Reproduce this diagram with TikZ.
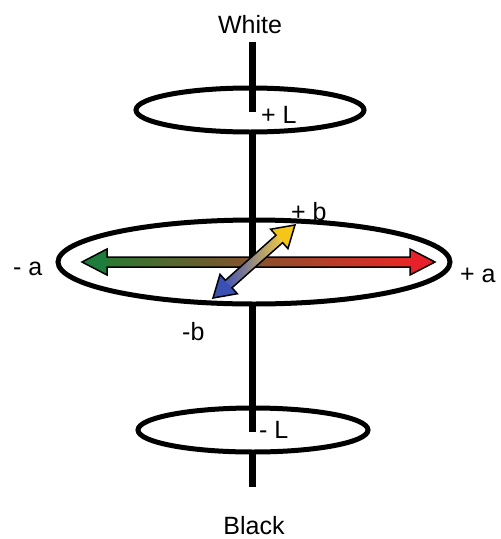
\documentclass[tikz,border=0pt]{standalone}
\usepackage{fontspec}
\setmainfont{Liberation Sans}
\usetikzlibrary{shapes.geometric}
\definecolor{hgreen}{RGB}{45,120,50}
\definecolor{hbrown}{RGB}{140,105,40}
\definecolor{hred}{RGB}{232,40,38}
\definecolor{hgreenhead}{RGB}{30,125,58}
\definecolor{hredhead}{RGB}{232,32,42}
\definecolor{dblue}{RGB}{70,85,180}
\definecolor{dlav}{RGB}{190,160,212}
\definecolor{dyellow}{RGB}{240,200,70}
\definecolor{dbluehead}{RGB}{58,80,178}
\definecolor{dyellowhead}{RGB}{245,197,24}
\begin{document}
\begin{tikzpicture}[x=1pt,y=-1pt,
  ring/.style={ellipse, draw, line width=5pt, inner sep=0pt},
  axisline/.style={line width=7pt, line cap=butt},
  arrowoutline/.style={draw=black, line width=1.5pt, line join=miter},
  lbl/.style={font=\fontsize{25}{30}\selectfont, inner sep=0pt}]
\useasboundingbox (0,0) rectangle (501,539);

% rings
\node[ring, minimum width=228pt, minimum height=44pt] (ringTop) at (250,110) {};
\node[ring, minimum width=392pt, minimum height=84pt] (ringMid) at (254,262) {};
\node[ring, minimum width=230pt, minimum height=44pt] (ringBot) at (253,430) {};

% L axis segments
\coordinate (ax0) at (252.5,42);
\coordinate (ax1) at (252.5,112);
\coordinate (ax2) at (252.5,132);
\coordinate (ax3) at (252.5,262);
\coordinate (ax4) at (252.5,304);
\coordinate (ax5) at (252.5,432);
\coordinate (ax6) at (252.5,452);
\coordinate (ax7) at (252.5,487);
\draw[axisline] (ax0) -- (ax1);
\draw[axisline] (ax2) -- (ax3);
\draw[axisline] (ax4) -- (ax5);
\draw[axisline] (ax6) -- (ax7);

% a axis arrow
\shade[left color=hgreen, middle color=hbrown, right color=hred] (107,257) rectangle (410,267);
\fill[hgreenhead] (82,262) -- (107,249) -- (107,275) -- cycle;
\fill[hredhead] (435,262) -- (410,249) -- (410,275) -- cycle;
\draw[arrowoutline] (82,262) -- (107,249) -- (107,257) -- (410,257) -- (410,249) -- (435,262)
  -- (410,275) -- (410,267) -- (107,267) -- (107,275) -- cycle;

% b axis arrow: points defined in a rotated frame
\begin{scope}[shift={(213,298)}, rotate=41.7]
\coordinate (bA) at (0,0);
\coordinate (bH1) at (21,-13);
\coordinate (bS1) at (21,-5);
\coordinate (bE1) at (88.8,-5);
\coordinate (bK1) at (88.8,-13);
\coordinate (bB) at (109.8,0);
\coordinate (bK2) at (88.8,13);
\coordinate (bE2) at (88.8,5);
\coordinate (bS2) at (21,5);
\coordinate (bH2) at (21,13);
\end{scope}
\shade[left color=dblue, middle color=dlav, right color=dyellow]
  (bS1) -- (bE1) -- (bE2) -- (bS2) -- cycle;
\fill[dbluehead] (bA) -- (bH1) -- (bH2) -- cycle;
\fill[dyellowhead] (bB) -- (bK1) -- (bK2) -- cycle;
\draw[arrowoutline] (bA) -- (bH1) -- (bS1) -- (bE1) -- (bK1) -- (bB)
  -- (bK2) -- (bE2) -- (bS2) -- (bH2) -- cycle;

% labels
\node[lbl, anchor=base] (white) at (250,33) {White};
\node[lbl, anchor=base west] (plusL) at (261,123) {+ L};
\node[lbl, anchor=base west] (minusL) at (259,438) {- L};
\node[lbl, anchor=base] (black) at (254,534) {Black};
\node[lbl, anchor=base west] (minusa) at (13,275) {- a};
\node[lbl, anchor=base west] (plusa) at (460,282) {+ a};
\node[lbl, anchor=base west] (plusb) at (291,220) {+ b};
\node[lbl, anchor=base west] (minusb) at (182,340) {-b};
\end{tikzpicture}
\end{document}
